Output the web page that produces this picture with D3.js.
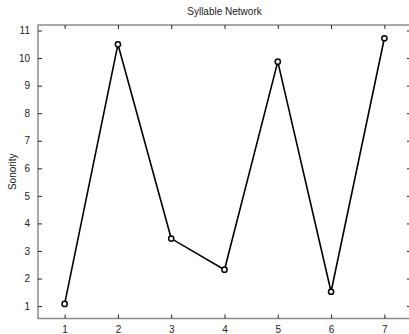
<!DOCTYPE html>
<html><head><meta charset="utf-8">
<script src="https://cdn.jsdelivr.net/npm/d3@7"></script>
<style>body{margin:0;background:#fff;} svg{display:block;font-family:"Liberation Sans",Arial,sans-serif;}</style>
</head><body>
<script>
const categories = [1, 2, 3, 4, 5, 6, 7];
const sonority = [1.08, 10.5, 3.45, 2.32, 9.87, 1.52, 10.72];
const yTicks = [1,2,3,4,5,6,7,8,9,10,11];
const title = "Syllable Network";
const yLabel = "Sonority";

const W = 409, H = 334;
const L = 38, R = 411, T = 25, B = 318.5;
const svg = d3.select("body").append("svg").attr("width", W).attr("height", H);
const x = d3.scaleLinear().domain([0.5, 7.5]).range([L, R]);
const y = d3.scaleLinear().domain([0.55, 11.2]).range([B, T]);

const tl = 4;
// frame
svg.append("rect").attr("x", L).attr("y", T).attr("width", R - L).attr("height", B - T)
  .attr("fill", "none").attr("stroke", "#8c8c8c").attr("stroke-width", 1.5);

// axes
const ax = d3.axisBottom(x).tickValues(categories).tickSize(-tl).tickFormat(d3.format("d"));
const gx = svg.append("g").attr("transform", `translate(0,${B})`).call(ax);
const axT = d3.axisTop(x).tickValues(categories).tickSize(-tl).tickFormat("");
const gxt = svg.append("g").attr("transform", `translate(0,${T})`).call(axT);
const ay = d3.axisLeft(y).tickValues(yTicks).tickSize(-tl).tickFormat(d3.format("d"));
const gy = svg.append("g").attr("transform", `translate(${L},0)`).call(ay);
const ayR = d3.axisRight(y).tickValues(yTicks).tickSize(-tl).tickFormat("");
const gyr = svg.append("g").attr("transform", `translate(${R},0)`).call(ayR);
[gx, gxt, gy, gyr].forEach(g => {
  g.select(".domain").remove();
  g.selectAll(".tick line").attr("stroke", "#222").attr("stroke-width", 1);
  g.selectAll(".tick text").attr("fill", "#222").style("font-size", "10px").style("font-family", '"Liberation Sans",Arial,sans-serif');
});
gx.selectAll(".tick text").attr("dy", "0").attr("y", 14);
gy.selectAll(".tick text").attr("x", -8);

// line
const line = d3.line().x((d, i) => x(categories[i])).y(d => y(d));
svg.append("path").datum(sonority).attr("d", line).attr("fill", "none")
  .attr("stroke", "#000").attr("stroke-width", 1.6);
svg.selectAll("circle.pt").data(sonority).enter().append("circle")
  .attr("class", "pt").attr("cx", (d, i) => x(categories[i])).attr("cy", d => y(d))
  .attr("r", 2.6).attr("fill", "#fff").attr("stroke", "#000").attr("stroke-width", 1.5);

// title & label
svg.append("text").attr("x", (L + R) / 2).attr("y", 15).attr("text-anchor", "middle")
  .style("font-size", "10px").attr("fill", "#222").text(title);
svg.append("text").attr("transform", `translate(16,${(T + B) / 2}) rotate(-90)`)
  .attr("text-anchor", "middle").style("font-size", "10px").attr("fill", "#222").text(yLabel);
</script>
</body></html>
